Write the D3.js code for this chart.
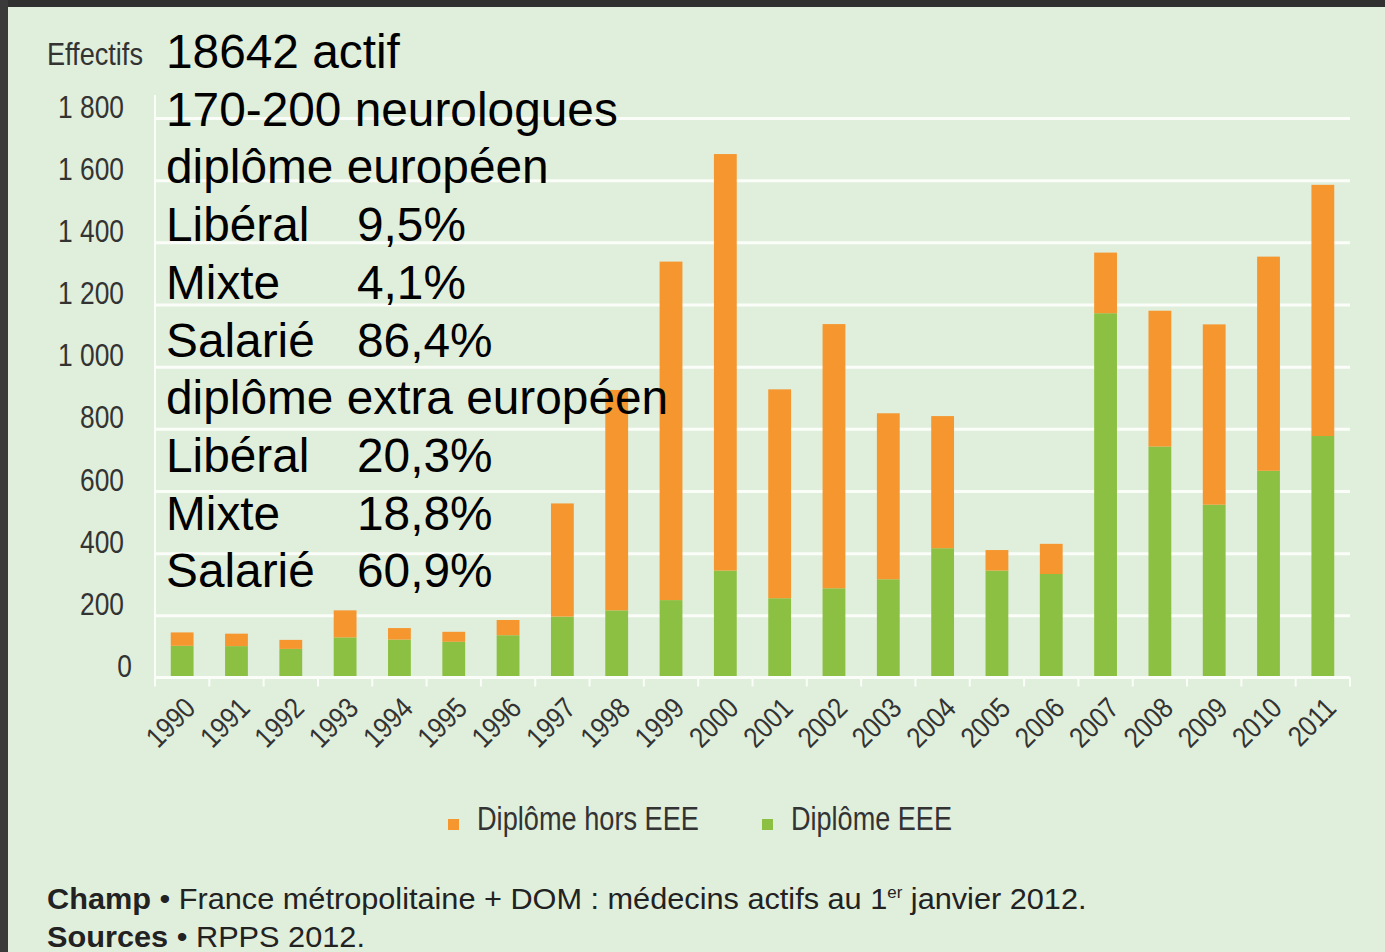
<!DOCTYPE html>
<html><head><meta charset="utf-8">
<script src="https://cdn.jsdelivr.net/npm/d3@7"></script>
<style>
html,body{margin:0;padding:0;background:#e0eedc;}
svg{display:block;font-family:"Liberation Sans",Arial,sans-serif;}
</style></head><body>
<svg id="chart" width="1385" height="952"></svg>
<script>
// ---- data ----
const years = ["1990","1991","1992","1993","1994","1995","1996","1997","1998","1999","2000","2001","2002","2003","2004","2005","2006","2007","2008","2009","2010","2011"];
const diplomeEEE = [102,101,92,129,122,115,136,196,216,249,344,255,287,316,416,344,333,1172,743,556,665,777];
const diplomeHorsEEE = [43,40,29,87,37,32,49,364,709,1089,1340,672,850,534,425,66,97,195,437,580,689,808];
const yTickValues = [0,200,400,600,800,1000,1200,1400,1600,1800];
const yTickLabels = ["0","200","400","600","800","1 000","1 200","1 400","1 600","1 800"];
const seriesNames = ["Diplôme hors EEE","Diplôme EEE"];
const seriesColors = ["#f5962e","#8cc043"];
const overlayLines = [
  ["18642 actif",""],
  ["170-200 neurologues",""],
  ["diplôme européen",""],
  ["Libéral","9,5%"],
  ["Mixte","4,1%"],
  ["Salarié","86,4%"],
  ["diplôme extra européen",""],
  ["Libéral","20,3%"],
  ["Mixte","18,8%"],
  ["Salarié","60,9%"]
];

(function(){
const svg = d3.select("#chart");
const W = 1385, H = 952;
svg.append("rect").attr("width",W).attr("height",H).attr("fill","#e0eedc");
// dark frame
svg.append("rect").attr("x",0).attr("y",0).attr("width",W).attr("height",7).attr("fill","#303030");
svg.append("rect").attr("x",0).attr("y",0).attr("width",8).attr("height",H).attr("fill","#3a3a3a");

const pLeft = 155, pRight = 1350, pTop = 118, pBottom = 677.5;
const x = d3.scaleBand().domain(years).range([pLeft,pRight]).paddingInner(0.58).paddingOuter(0.29);
const y = d3.scaleLinear().domain([0,1800]).range([pBottom,pTop]);

function fitWidth(sel, w){
  sel.each(function(){
    const el = this;
    const cur = el.getAttribute("transform") || "";
    const len = el.getBBox().width;
    if(len>0) el.setAttribute("transform", cur + " scale(" + (w/len) + ",1)");
  });
}

// gridlines
const grid = svg.append("g").attr("transform",`translate(${pLeft},0)`)
  .call(d3.axisLeft(y).tickValues(yTickValues.filter(v=>v>0)).tickSize(-(pRight-pLeft)).tickFormat(""));
grid.select(".domain").remove();
grid.selectAll("line").attr("stroke","#fbfdf9").attr("stroke-width",3);

// y axis vertical line
svg.append("line").attr("x1",pLeft).attr("x2",pLeft).attr("y1",95).attr("y2",pBottom)
  .attr("stroke","#fbfdf9").attr("stroke-width",2);

// y labels (condensed look)
svg.append("g").selectAll("text").data(yTickValues).join("text")
  .attr("transform",d=>`translate(${d===0?132:124},${y(d)-0.5}) scale(0.85,1)`)
  .attr("text-anchor","end").attr("font-size",31).attr("fill","#333")
  .text((d,i)=>yTickLabels[i]);

const eff = svg.append("text").attr("transform","translate(47,65)").attr("font-size",31).attr("fill","#333").text("Effectifs");
fitWidth(eff,96);

// bars
const stackData = years.map((yr,i)=>({year:yr, eee:diplomeEEE[i], hors:diplomeHorsEEE[i]}));
const stack = d3.stack().keys(["eee","hors"])(stackData);
const colorByKey = {eee:seriesColors[1], hors:seriesColors[0]};
svg.append("g").selectAll("g").data(stack).join("g")
  .attr("fill",d=>colorByKey[d.key])
  .selectAll("rect").data(d=>d).join("rect")
  .attr("x",d=>x(d.data.year)).attr("width",x.bandwidth())
  .attr("y",d=>y(d[1])).attr("height",d=>y(d[0])-y(d[1]));

// x axis
const xAx = svg.append("g").attr("transform",`translate(0,${pBottom})`);
xAx.append("line").attr("x1",pLeft).attr("x2",pRight).attr("stroke","#fbfdf9").attr("stroke-width",3);
const step = x.step();
const bounds = d3.range(years.length+1).map(i=>pLeft+i*step);
xAx.selectAll("line.tk").data(bounds).join("line").attr("class","tk")
  .attr("x1",d=>d).attr("x2",d=>d).attr("y1",0).attr("y2",9)
  .attr("stroke","#fbfdf9").attr("stroke-width",2);
svg.append("g").selectAll("text").data(years).join("text")
  .attr("transform",d=>`translate(${x(d)+x.bandwidth()/2+15},710) rotate(-45) scale(0.86,1)`)
  .attr("text-anchor","end").attr("font-size",29).attr("fill","#333").text(d=>d);

// legend
const legX = [448,762], legTX = [477,791], legW = [222,161];
seriesNames.forEach((n,i)=>{
  svg.append("rect").attr("x",legX[i]).attr("y",819).attr("width",11).attr("height",11).attr("fill",seriesColors[i]);
  const t = svg.append("text").attr("transform",`translate(${legTX[i]},830)`).attr("font-size",33).attr("fill","#333").text(n);
  fitWidth(t,legW[i]);
});

// overlay text
const ov = svg.append("g");
overlayLines.forEach((l,i)=>{
  const yy = 68 + i*57.7;
  ov.append("text").attr("x",166).attr("y",yy).attr("font-size",47.8).attr("fill","#000").text(l[0]);
  if(l[1]) ov.append("text").attr("x",357).attr("y",yy).attr("font-size",47.8).attr("fill","#000").text(l[1]);
});

// footer
const f1 = svg.append("text").attr("transform","translate(47,909)").attr("font-size",29).attr("fill","#222");
f1.append("tspan").attr("font-weight","bold").text("Champ");
f1.append("tspan").text(" • France métropolitaine + DOM : médecins actifs au 1");
f1.append("tspan").attr("font-size",16).attr("dy",-11).text("er");
f1.append("tspan").attr("dy",11).text(" janvier 2012.");
fitWidth(f1,1040);
const f2 = svg.append("text").attr("transform","translate(47,947)").attr("font-size",29).attr("fill","#222");
f2.append("tspan").attr("font-weight","bold").text("Sources");
f2.append("tspan").text(" • RPPS 2012.");
fitWidth(f2,318);
})();
</script>
</body></html>
